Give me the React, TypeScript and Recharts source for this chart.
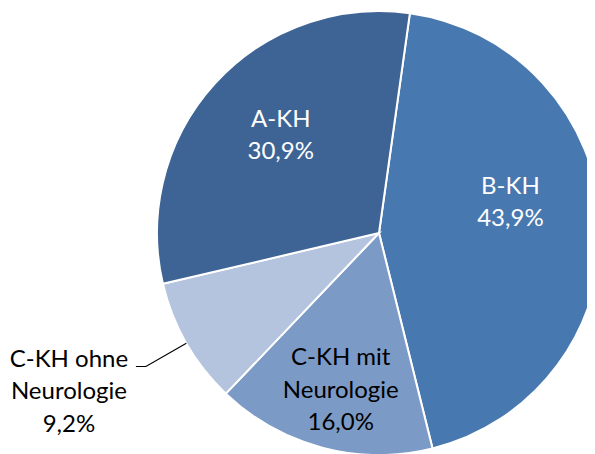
import { PieChart, Pie, Cell } from 'recharts';

const CATEGORIES = ['B-KH', 'C-KH mit Neurologie', 'C-KH ohne Neurologie', 'A-KH'];
const LABEL_LINES = [['B-KH'], ['C-KH mit', 'Neurologie'], ['C-KH ohne', 'Neurologie'], ['A-KH']];
const SHARES = [43.9, 16.0, 9.2, 30.9];
const COLORS = ['#4878B0', '#7C9AC6', '#B4C4DF', '#3E6495'];
const TEXT_COLORS = ['#ffffff', '#000000', '#000000', '#ffffff'];

// where each label sits: fraction of the radius, angle nudge (deg), outside with leader line
const LABEL_LAYOUT = [
  { r: 0.61, da: 11, outside: false },
  { r: 0.72, da: 1, outside: false },
  { r: 1.21, da: 0, outside: true },
  { r: 0.63, da: -3, outside: false },
];

const data = CATEGORIES.map((name, i) => ({ name, value: SHARES[i] }));

const RAD = Math.PI / 180;
const FONT = 'Lato, "Open Sans", sans-serif';
const FONT_SIZE = 24;
const LINE_H = 32.5;

const fmt = (v: number) => `${v.toFixed(1).replace('.', ',')}%`;

function renderLabel(props: any) {
  const { cx, cy, midAngle, outerRadius, index, value } = props;
  const layout = LABEL_LAYOUT[index];
  const lines = [...LABEL_LINES[index], fmt(value)];
  const color = TEXT_COLORS[index];

  if (layout.outside) {
    const a = -midAngle * RAD;
    const sx = cx + outerRadius * Math.cos(a);
    const sy = cy + outerRadius * Math.sin(a);
    const ex = cx + outerRadius * layout.r * Math.cos(a);
    const ey = cy + outerRadius * layout.r * Math.sin(a);
    const hx = ex - 10;
    const tx = hx - 67;
    const ty = ey - 9;
    return (
      <g>
        <polyline
          points={`${sx},${sy} ${ex},${ey} ${hx},${ey}`}
          fill="none"
          stroke="#000"
          strokeWidth={1.2}
        />
        <text textAnchor="middle" fill={color} fontFamily={FONT} fontSize={FONT_SIZE}>
          {lines.map((l, i) => (
            <tspan key={i} x={tx} y={ty + i * LINE_H} dominantBaseline="central">
              {l}
            </tspan>
          ))}
        </text>
      </g>
    );
  }

  const a = -(midAngle + layout.da) * RAD;
  const x = cx + outerRadius * layout.r * Math.cos(a);
  const y = cy + outerRadius * layout.r * Math.sin(a);
  const top = y - ((lines.length - 1) * LINE_H) / 2;
  return (
    <text textAnchor="middle" fill={color} fontFamily={FONT} fontSize={FONT_SIZE}>
      {lines.map((l, i) => (
        <tspan key={i} x={x} y={top + i * LINE_H} dominantBaseline="central">
          {l}
        </tspan>
      ))}
    </text>
  );
}

export default function App() {
  return (
    <div style={{ width: 587, height: 446, background: '#fff' }}>
      <PieChart width={587} height={446} margin={{ top: 0, right: 0, bottom: 0, left: 0 }}>
        <Pie
          data={data}
          dataKey="value"
          nameKey="name"
          cx={371}
          cy={225}
          outerRadius={222}
          startAngle={82}
          endAngle={-278}
          stroke="#ffffff"
          strokeWidth={2}
          label={renderLabel}
          labelLine={false}
          isAnimationActive={false}
        >
          {data.map((d, i) => (
            <Cell key={d.name} fill={COLORS[i]} />
          ))}
        </Pie>
      </PieChart>
    </div>
  );
}
